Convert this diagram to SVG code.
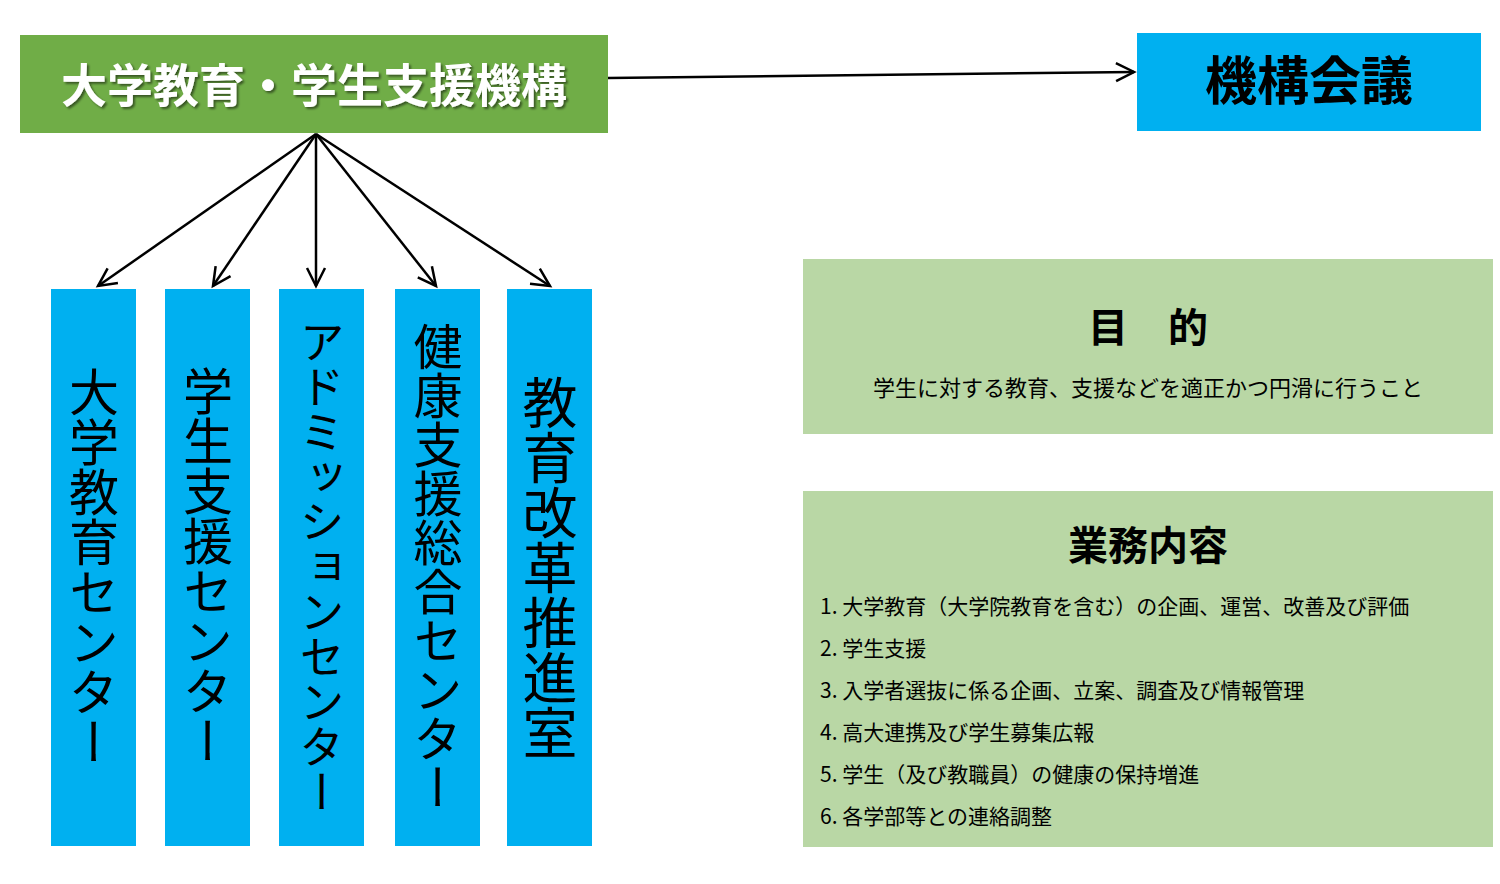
<svg xmlns="http://www.w3.org/2000/svg" width="1500" height="884" viewBox="0 0 1500 884">
<defs>
<marker id="a" markerWidth="24" markerHeight="24" refX="20" refY="12" orient="auto" markerUnits="userSpaceOnUse"><path d="M2,3 L20,12 L2,21" fill="none" stroke="#000" stroke-width="2.5"/></marker>
<filter id="sh"><feDropShadow dx="2" dy="2" stdDeviation="1" flood-color="#000" flood-opacity="0.5"/></filter>
</defs>
<style>
text{font-family:"Noto Sans CJK JP","Noto Sans",sans-serif;fill:#000}
.blue{fill:#00b0f0}
.lg{fill:#b9d7a5}
.v{writing-mode:vertical-rl;font-size:50px;text-anchor:middle}
.li{font-size:21px}
</style>
<rect width="1500" height="884" fill="#fff"/>
<g id="connectors" stroke="#000" stroke-width="2.5" fill="none">
<line x1="608" y1="78" x2="1134" y2="72" marker-end="url(#a)"/>
<line x1="316" y1="134" x2="98" y2="286" marker-end="url(#a)"/>
<line x1="316" y1="134" x2="213" y2="286" marker-end="url(#a)"/>
<line x1="316" y1="134" x2="316" y2="286" marker-end="url(#a)"/>
<line x1="316" y1="134" x2="436" y2="286" marker-end="url(#a)"/>
<line x1="316" y1="134" x2="550" y2="286" marker-end="url(#a)"/>
</g>
<g id="kiko"><rect x="20" y="35" width="588" height="98" fill="#70ad47"/><text x="314" y="102" font-size="46" font-weight="bold" text-anchor="middle" style="fill:#fff" filter="url(#sh)">大学教育・学生支援機構</text></g>
<g id="kaigi"><rect class="blue" x="1137" y="33" width="344" height="98"/><text x="1309" y="100" font-size="52" font-weight="bold" text-anchor="middle">機構会議</text></g>
<g id="c1"><rect class="blue" x="51" y="289" width="85" height="557"/><text class="v" x="94" y="567">大学教育センター</text></g>
<g id="c2"><rect class="blue" x="165" y="289" width="85" height="557"/><text class="v" x="208" y="566">学生支援センター</text></g>
<g id="c3"><rect class="blue" x="279" y="289" width="85" height="557"/><text class="v" x="322" y="567" style="font-size:45px">アドミッションセンター</text></g>
<g id="c4"><rect class="blue" x="395" y="289" width="85" height="557"/><text class="v" x="438" y="567" style="font-size:49px">健康支援総合センター</text></g>
<g id="c5"><rect class="blue" x="507" y="289" width="85" height="557"/><text class="v" x="550" y="567" style="font-size:55px">教育改革推進室</text></g>
<g id="mokuteki"><rect class="lg" x="803" y="259" width="690" height="175"/>
<text x="1148" y="342" font-size="40" font-weight="bold" text-anchor="middle">目　的</text>
<text x="1148" y="396" font-size="22" text-anchor="middle">学生に対する教育、支援などを適正かつ円滑に行うこと</text></g>
<g id="gyomu"><rect class="lg" x="803" y="491" width="690" height="356"/>
<text x="1148" y="560" font-size="40" font-weight="bold" text-anchor="middle">業務内容</text>
<text class="li" x="820" y="614">1. 大学教育（大学院教育を含む）の企画、運営、改善及び評価</text>
<text class="li" x="820" y="656">2. 学生支援</text>
<text class="li" x="820" y="698">3. 入学者選抜に係る企画、立案、調査及び情報管理</text>
<text class="li" x="820" y="740">4. 高大連携及び学生募集広報</text>
<text class="li" x="820" y="782">5. 学生（及び教職員）の健康の保持増進</text>
<text class="li" x="820" y="824">6. 各学部等との連絡調整</text></g>
</svg>
